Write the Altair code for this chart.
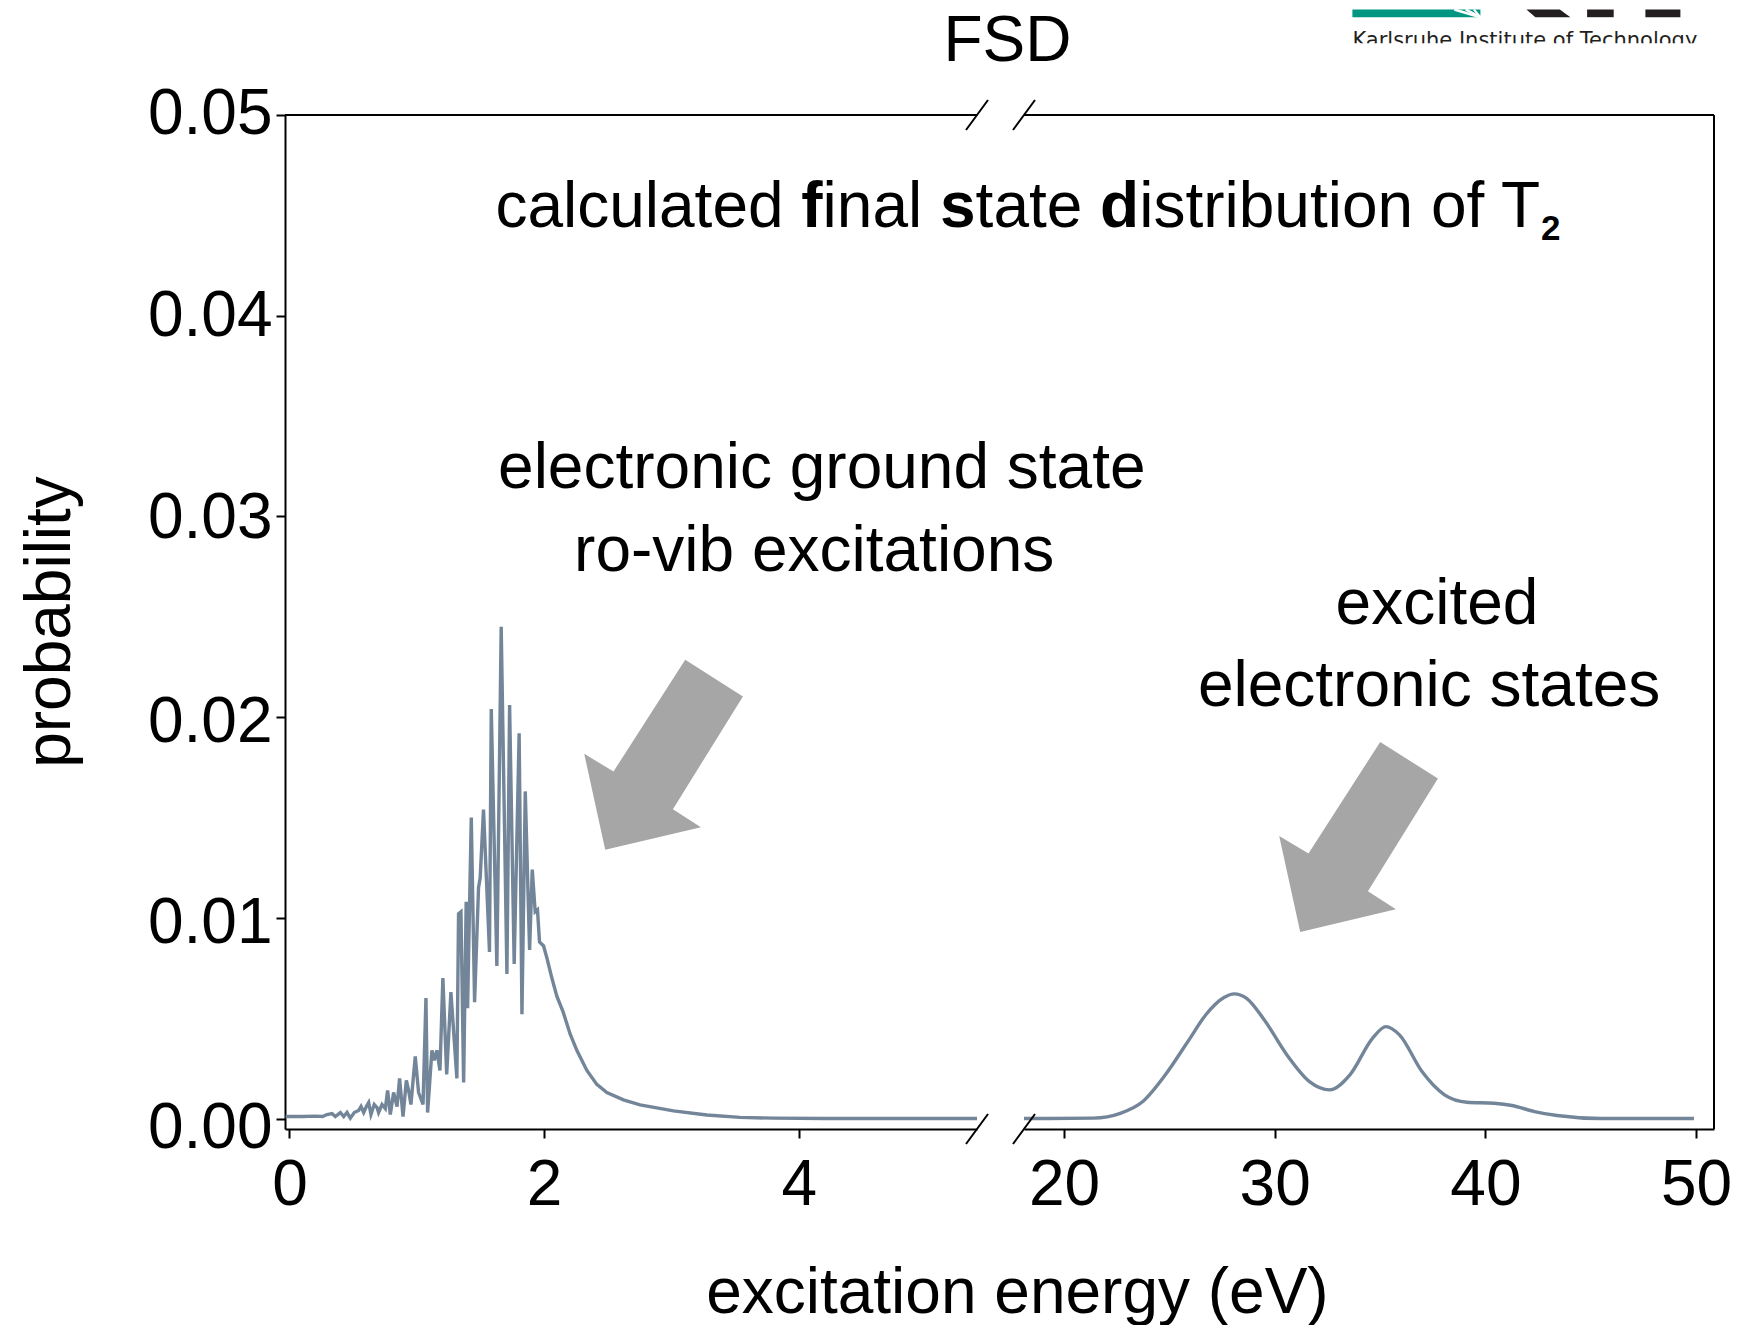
import altair as alt
import pandas as pd

# ---------------- data ----------------
gs_energy = [-0.03, 0.10, 0.20, 0.26, 0.295, 0.334, 0.360, 0.400, 0.426, 0.452, 0.478, 0.509, 0.543,
             0.562, 0.583, 0.604, 0.622, 0.640, 0.666, 0.688, 0.700, 0.727, 0.753, 0.771, 0.792, 0.818,
             0.845, 0.865, 0.892, 0.918, 0.936, 0.954, 0.988, 1.014, 1.049, 1.072, 1.085, 1.119, 1.137,
             1.158, 1.182, 1.205, 1.235, 1.268, 1.315, 1.328, 1.347, 1.368, 1.388, 1.399, 1.428, 1.454,
             1.485, 1.498, 1.524, 1.571, 1.585, 1.629, 1.663, 1.708, 1.729, 1.765, 1.804, 1.826, 1.852,
             1.886, 1.907, 1.930, 1.948, 1.964, 1.996, 2.022, 2.061, 2.100, 2.150, 2.205, 2.257, 2.336,
             2.414, 2.493, 2.623, 2.754, 3.016, 3.278, 3.539, 3.80, 4.20, 5.40]
gs_prob = [0.0001, 0.0001, 0.00012, 0.0001, 0.0002, 0.00025, 0.0001, 0.0003, 0.0001, 0.0003, 0.00002,
           0.0003, 0.0004, 0.0006, 0.0003, 0.0006, 0.0008, 0.0002, 0.0007, 0.00055, 0.0003, 0.0007,
           0.0005, 0.0014, 0.0002, 0.0013, 0.0006, 0.0020, 0.0001, 0.0019, 0.0014, 0.0007, 0.0031,
           0.0013, 0.0007, 0.0060, 0.0003, 0.0034, 0.0029, 0.0034, 0.0024, 0.0070, 0.0022, 0.0063,
           0.0020, 0.0102, 0.0103, 0.0018, 0.0108, 0.0055, 0.0150, 0.0058, 0.0115, 0.0120, 0.0154,
           0.0083, 0.0204, 0.0076, 0.0245, 0.0072, 0.0206, 0.0077, 0.0192, 0.0052, 0.0163, 0.0084,
           0.0124, 0.0103, 0.0104, 0.0088, 0.0086, 0.0080, 0.0070, 0.0061, 0.0053, 0.0042, 0.0034,
           0.0024, 0.0017, 0.0013, 0.00093, 0.00068, 0.00038, 0.00018, 0.00006, 0.00002, 0.0, 0.0]

ex_energy = [18.1, 21.4, 22.67, 23.74, 24.81, 25.88, 26.73, 27.59, 28.08, 28.65, 29.5, 30.58, 31.65,
             32.61, 33.57, 34.64, 35.28, 35.92, 36.99, 38.06, 39.12, 40.41, 41.26, 42.33, 43.4, 45.5, 49.9]
ex_prob = [0.0, 0.00002, 0.00026, 0.00085, 0.00218, 0.00384, 0.00517, 0.00603, 0.00621, 0.0060,
           0.00492, 0.00317, 0.00184, 0.00143, 0.00218, 0.0040, 0.00458, 0.00417, 0.00234, 0.00118,
           0.00081, 0.00076, 0.00065, 0.00035, 0.00015, 0.0, 0.0]

y_ticks = [0, 0.01, 0.02, 0.03, 0.04, 0.05]
left_ticks = [0, 2, 4]
right_ticks = [20, 30, 40, 50]

arrow1_tip = {"e": [2.48], "p": [0.01339]}
arrow2_tip = {"e": [31.21], "p": [0.0093]}

# ---------------- styling ----------------
FONT = "Liberation Sans"
LINE = "#738599"
ARROW = "#a6a6a6"
W1, W2, H = 692, 690, 1014
GAP = 47
X0, Y0 = 284.6, 113.5            # page position of the left plot area
RX0 = X0 + W1 + GAP              # page position of the right plot area

ARROW_PATH = ("M 0 0 L -21 -96 L 8.3 -78.3 L 80 -190 L 137.7 -153.3 "
              "L 67.7 -40.6 L 95.7 -22.6 Z")

one = pd.DataFrame({"k": [0]})
gs = pd.DataFrame({"e": gs_energy, "p": gs_prob})
ex = pd.DataFrame({"e": ex_energy, "p": ex_prob})

yscale = alt.Scale(domain=[-0.00052, 0.05], nice=False, zero=False)
lscale = alt.Scale(domain=[-0.035, 5.4], nice=False, zero=False)
rscale = alt.Scale(domain=[18.1, 50.85], nice=False, zero=False)

# the tick labels of the reference drift slightly downward towards the bottom
ylabel_offset = {
    "condition": [
        {"test": "datum.value < 0.005", "value": 10},
        {"test": "datum.value < 0.015", "value": 6},
        {"test": "datum.value < 0.025", "value": 5},
        {"test": "datum.value < 0.035", "value": 2},
        {"test": "datum.value < 0.045", "value": 1},
    ],
    "value": -1,
}


def xaxis(vals):
    return alt.Axis(values=vals, format="d", labelFontSize=64, labelFont=FONT, labelColor="black",
                    labelPadding=15, tickSize=9, tickWidth=2, tickColor="black",
                    domainColor="black", domainWidth=2, grid=False, labelFlush=False,
                    labelOverlap=False, labelAngle=0, title=None)


def yaxis():
    return alt.Axis(values=y_ticks, format=".2f", labelFontSize=64, labelFont=FONT,
                    labelColor="black", labelPadding=4, tickSize=9, tickWidth=2,
                    tickColor="black", domainColor="black", domainWidth=2, grid=False,
                    labelOverlap=False, labelFlush=False, labelOffset=ylabel_offset, title=None)


def txt(s, x, y, size=64, weight="normal", align="left", angle=0, font=FONT, color="black"):
    return alt.Chart(one).mark_text(text=s, fontSize=size, fontWeight=weight, align=align,
                                    baseline="alphabetic", font=font, color=color,
                                    angle=angle).encode(x=alt.value(x), y=alt.value(y))


def rule(x, x2, y, y2=None, color="black", width=2):
    enc = dict(x=alt.value(x), x2=alt.value(x2), y=alt.value(y))
    if y2 is not None:
        enc["y2"] = alt.value(y2)
    return alt.Chart(one).mark_rule(color=color, strokeWidth=width).encode(**enc)


def box(x, x2, y, y2, color, opacity=1.0):
    return alt.Chart(one).mark_rect(color=color, opacity=opacity, strokeWidth=0).encode(
        x=alt.value(x), x2=alt.value(x2), y=alt.value(y), y2=alt.value(y2))


# ---------------- left panel (0 - 5.4 eV) ----------------
left_line = alt.Chart(gs).mark_line(color=LINE, strokeWidth=3.4, clip=True).encode(
    x=alt.X("e:Q", scale=lscale, axis=xaxis(left_ticks)),
    y=alt.Y("p:Q", scale=yscale, axis=yaxis()),
)

arrow1 = alt.Chart(pd.DataFrame(arrow1_tip)).mark_point(
    shape=ARROW_PATH, size=4, filled=True, color=ARROW, opacity=1, strokeWidth=0
).encode(x=alt.X("e:Q", scale=lscale, axis=xaxis(left_ticks)),
         y=alt.Y("p:Q", scale=yscale, axis=yaxis()))

title_parts = [
    txt("calculated", 495 - X0, 225 - Y0),
    txt("f", 800.9 - X0, 225 - Y0, weight="bold"),
    txt("inal", 822.2 - X0, 225 - Y0),
    txt("s", 939.6 - X0, 225 - Y0, weight="bold"),
    txt("tate", 975.2 - X0, 225 - Y0),
    txt("d", 1099.7 - X0, 225 - Y0, weight="bold"),
    txt("istribution of T", 1138.8 - X0, 225 - Y0),
    txt("2", 1540.7 - X0, 238.5 - Y0, size=35, weight="bold"),
]

left = alt.layer(
    left_line,
    box(8 - X0, 9 - X0, 8 - Y0, 9 - Y0, "white", opacity=0),      # layout anchor
    rule(0, W1, 0),
    rule(W1 - 11, W1 + 11, 15, -15),
    rule(W1 - 11, W1 + 11, H + 15, H - 15),
    arrow1,
    txt("FSD", 1007 - X0, 59.6 - Y0, align="center"),
    txt("probability", 70 - X0, H / 2, align="center", angle=270),
    txt("excitation energy (eV)", 1017 - X0, 1311 - Y0, align="center"),
    txt("electronic ground state", 821.4 - X0, 486 - Y0, align="center"),
    txt("ro-vib excitations", 813.8 - X0, 569 - Y0, align="center"),
    *title_parts,
).properties(width=W1, height=H)

# ---------------- right panel (18 - 51 eV) ----------------
right_line = alt.Chart(ex).mark_line(color=LINE, strokeWidth=3.4, interpolate="monotone", clip=True).encode(
    x=alt.X("e:Q", scale=rscale, axis=xaxis(right_ticks)),
    y=alt.Y("p:Q", scale=yscale, axis=None),
)

arrow2 = alt.Chart(pd.DataFrame(arrow2_tip)).mark_point(
    shape=ARROW_PATH, size=4, filled=True, color=ARROW, opacity=1, strokeWidth=0
).encode(x=alt.X("e:Q", scale=rscale, axis=xaxis(right_ticks)),
         y=alt.Y("p:Q", scale=yscale, axis=None))

K_PATH = "M 0 0 L 33.4 0 L 44 7.7 L 9 7.7 Z"
logo_k = alt.Chart(one).mark_point(shape=K_PATH, size=4, filled=True, color="#231f20",
                                    opacity=1, strokeWidth=0).encode(
    x=alt.value(1526 - RX0), y=alt.value(8 - Y0))

logo = [
    box(1352 - RX0, 1480 - RX0, 8 - Y0, 15.7 - Y0, "#009682"),
    rule(1453.9 - RX0, 1480 - RX0, 8 - Y0, 15.7 - Y0, color="white", width=2.5),
    rule(1465.3 - RX0, 1480 - RX0, 8 - Y0, 15.7 - Y0, color="white", width=2.5),
    rule(1473.5 - RX0, 1480 - RX0, 8 - Y0, 15.7 - Y0, color="white", width=2),
    logo_k,
    box(1586.7 - RX0, 1613.3 - RX0, 8 - Y0, 15.7 - Y0, "#231f20"),
    box(1645 - RX0, 1680 - RX0, 8 - Y0, 15.7 - Y0, "#231f20"),
    txt("Karlsruhe Institute of Technology", 1352 - RX0, 45.5 - Y0, size=21,
        font="DejaVu Sans", color="#231f20"),
    box(1341 - RX0, 1712 - RX0, 41.7 - Y0, 50 - Y0, "white"),
]

right = alt.layer(
    right_line,
    rule(0, W2, 0),
    rule(W2, W2, 0, H),
    rule(-11, 11, 15, -15),
    rule(-11, 11, H + 15, H - 15),
    arrow2,
    txt("excited", 1436.6 - RX0, 622 - Y0, align="center"),
    txt("electronic states", 1428.7 - RX0, 704 - Y0, align="center"),
    *logo,
).properties(width=W2, height=H)

chart = alt.hconcat(left, right, spacing=GAP, bounds="flush", padding=0).configure_view(stroke=None)

chart.save("out.html", embed_options={"renderer": "svg", "actions": False})
